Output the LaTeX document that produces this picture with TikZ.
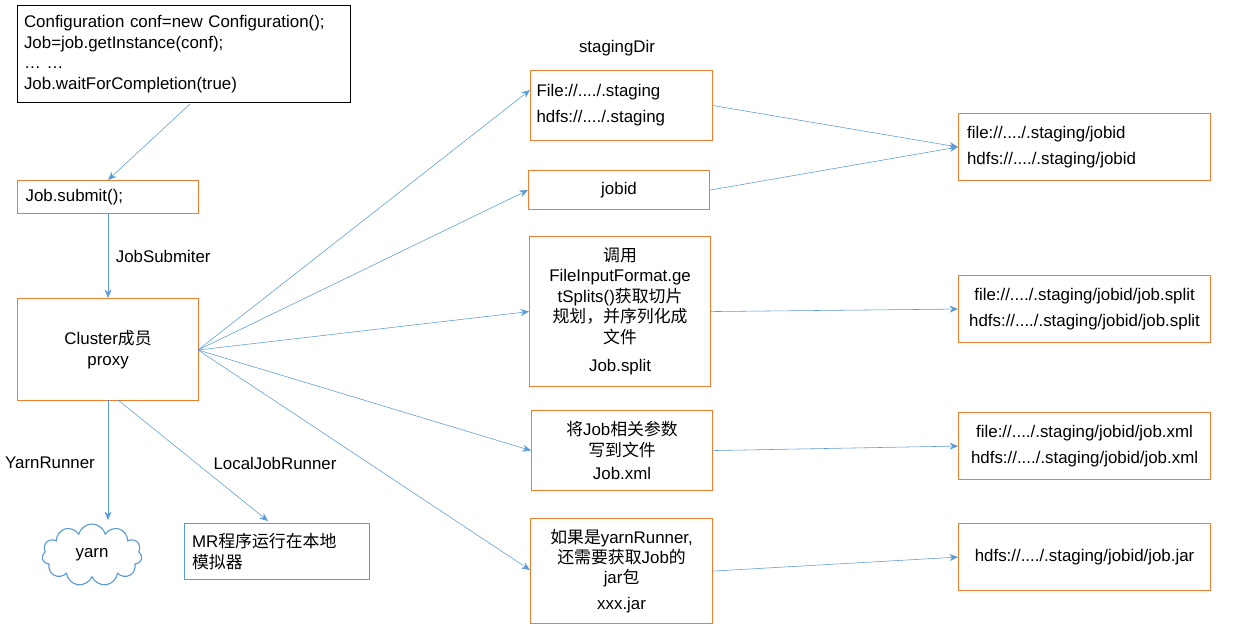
\documentclass[tikz,border=0pt]{standalone}
\usepackage{fontspec}
\setmainfont{Liberation Sans}
\newfontfamily\cjk{Noto Sans CJK SC}
\usetikzlibrary{shapes.symbols,arrows.meta}
\definecolor{orng}{HTML}{ED7D31}
\definecolor{lblue}{HTML}{5B9BD5}
\newcommand{\zh}[1]{{\cjk #1}}
\begin{document}
\begin{tikzpicture}[x=0.025cm,y=-0.025cm,
 every node/.style={font=\fontsize{12}{14.5}\selectfont},
 obox/.style={draw=orng,thick,inner sep=2pt,align=center},
 arr/.style={draw=lblue,-{Stealth[length=6pt,width=5pt]}}]
\useasboundingbox (0,0) rectangle (1239,634);

% left column
\node[draw,thick,align=left,anchor=north west,minimum width=333*0.025cm,minimum height=97*0.025cm,text width=320*0.025cm] (code) at (17,5)
 {Configuration conf=new Configuration();\\Job=job.getInstance(conf);\\\dots\ \dots\\Job.waitForCompletion(true)};
\node[obox,anchor=north west,minimum width=181*0.025cm,minimum height=33*0.025cm,text width=165*0.025cm,align=left] (submit) at (17,180) {Job.submit();};
\node[obox,anchor=north west,minimum width=181*0.025cm,minimum height=102*0.025cm] (cluster) at (17,298) {Cluster\zh{成员}\\proxy};
\node[cloud,draw=lblue,thick,cloud puffs=11,aspect=1.8,minimum width=100*0.025cm,minimum height=62*0.025cm] (yarn) at (92,555) {yarn};
\node[draw=lblue,thick,anchor=north west,minimum width=185*0.025cm,minimum height=56*0.025cm,text width=170*0.025cm,align=left] (mr) at (184,523) {MR\zh{程序运行在本地}\\\zh{模拟器}};

\coordinate (codeout) at (190,104);
\coordinate (submitin) at (108,180);
\draw[arr] (codeout) -- (submitin);
\draw[arr] (submit) -- node[right,xshift=2pt] {JobSubmiter} (cluster);
\coordinate (cl1) at (108,400);
\coordinate (yarnin) at (108,520);
\draw[arr] (cl1) -- (yarnin);
\node (yr) at (50,463) {YarnRunner};
\coordinate (cl2) at (118,400);
\coordinate (mrin) at (268,521);
\draw[arr] (cl2) -- (mrin);
\node (ljr) at (275,463) {LocalJobRunner};

% middle column
\node (sdir) at (617,48) {stagingDir};
\node[obox,anchor=north west,minimum width=182*0.025cm,minimum height=70*0.025cm,text width=170*0.025cm,align=left] (stage) at (530,70) {File://..../.staging\\[4pt]hdfs://..../.staging};
\node[obox,anchor=north west,minimum width=181*0.025cm,minimum height=39*0.025cm] (jobid) at (528,170) {jobid};
\node[obox,anchor=north west,minimum width=181*0.025cm,minimum height=150*0.025cm,text width=165*0.025cm] (split) at (529,236) {\zh{调用}\\FileInputFormat.ge\\tSplits()\zh{获取切片}\\\zh{规划，并序列化成}\\\zh{文件}\\[6pt]Job.split};
\node[obox,anchor=north west,minimum width=181*0.025cm,minimum height=80*0.025cm] (xml) at (531,410) {\zh{将}Job\zh{相关参数}\\\zh{写到文件}\\[2pt]Job.xml};
\node[obox,anchor=north west,minimum width=182*0.025cm,minimum height=105*0.025cm,text width=172*0.025cm] (jar) at (530,518) {\zh{如果是}yarnRunner,\\\zh{还需要获取}Job\zh{的}\\jar\zh{包}\\[4pt]xxx.jar};

% right column
\node[obox,anchor=north west,minimum width=252*0.025cm,minimum height=67*0.025cm,text width=235*0.025cm,align=left] (r1) at (958,113) {file://..../.staging/jobid\\[4pt]hdfs://..../.staging/jobid};
\node[obox,anchor=north west,minimum width=252*0.025cm,minimum height=67*0.025cm] (r2) at (958,275) {file://..../.staging/jobid/job.split\\[4pt]hdfs://..../.staging/jobid/job.split};
\node[obox,anchor=north west,minimum width=252*0.025cm,minimum height=67*0.025cm] (r3) at (958,412) {file://..../.staging/jobid/job.xml\\[4pt]hdfs://..../.staging/jobid/job.xml};
\node[obox,anchor=north west,minimum width=252*0.025cm,minimum height=67*0.025cm] (r4) at (958,523) {hdfs://..../.staging/jobid/job.jar};

% fan out from cluster
\coordinate (clout) at (198,350);
\draw[arr] (clout) -- (530,90);
\draw[arr] (clout) -- (jobid.west);
\draw[arr] (clout) -- (split.west);
\draw[arr] (clout) -- (xml.west);
\draw[arr] (clout) -- (530,570);

% to the right
\coordinate (r1in) at (958,147);
\draw[arr] (stage.east) -- (r1in);
\draw[arr] (jobid.east) -- (r1in);
\draw[arr] (split.east) -- (r2.west);
\draw[arr] (xml.east) -- (r3.west);
\draw[arr] (jar.east) -- (r4.west);
\end{tikzpicture}
\end{document}
